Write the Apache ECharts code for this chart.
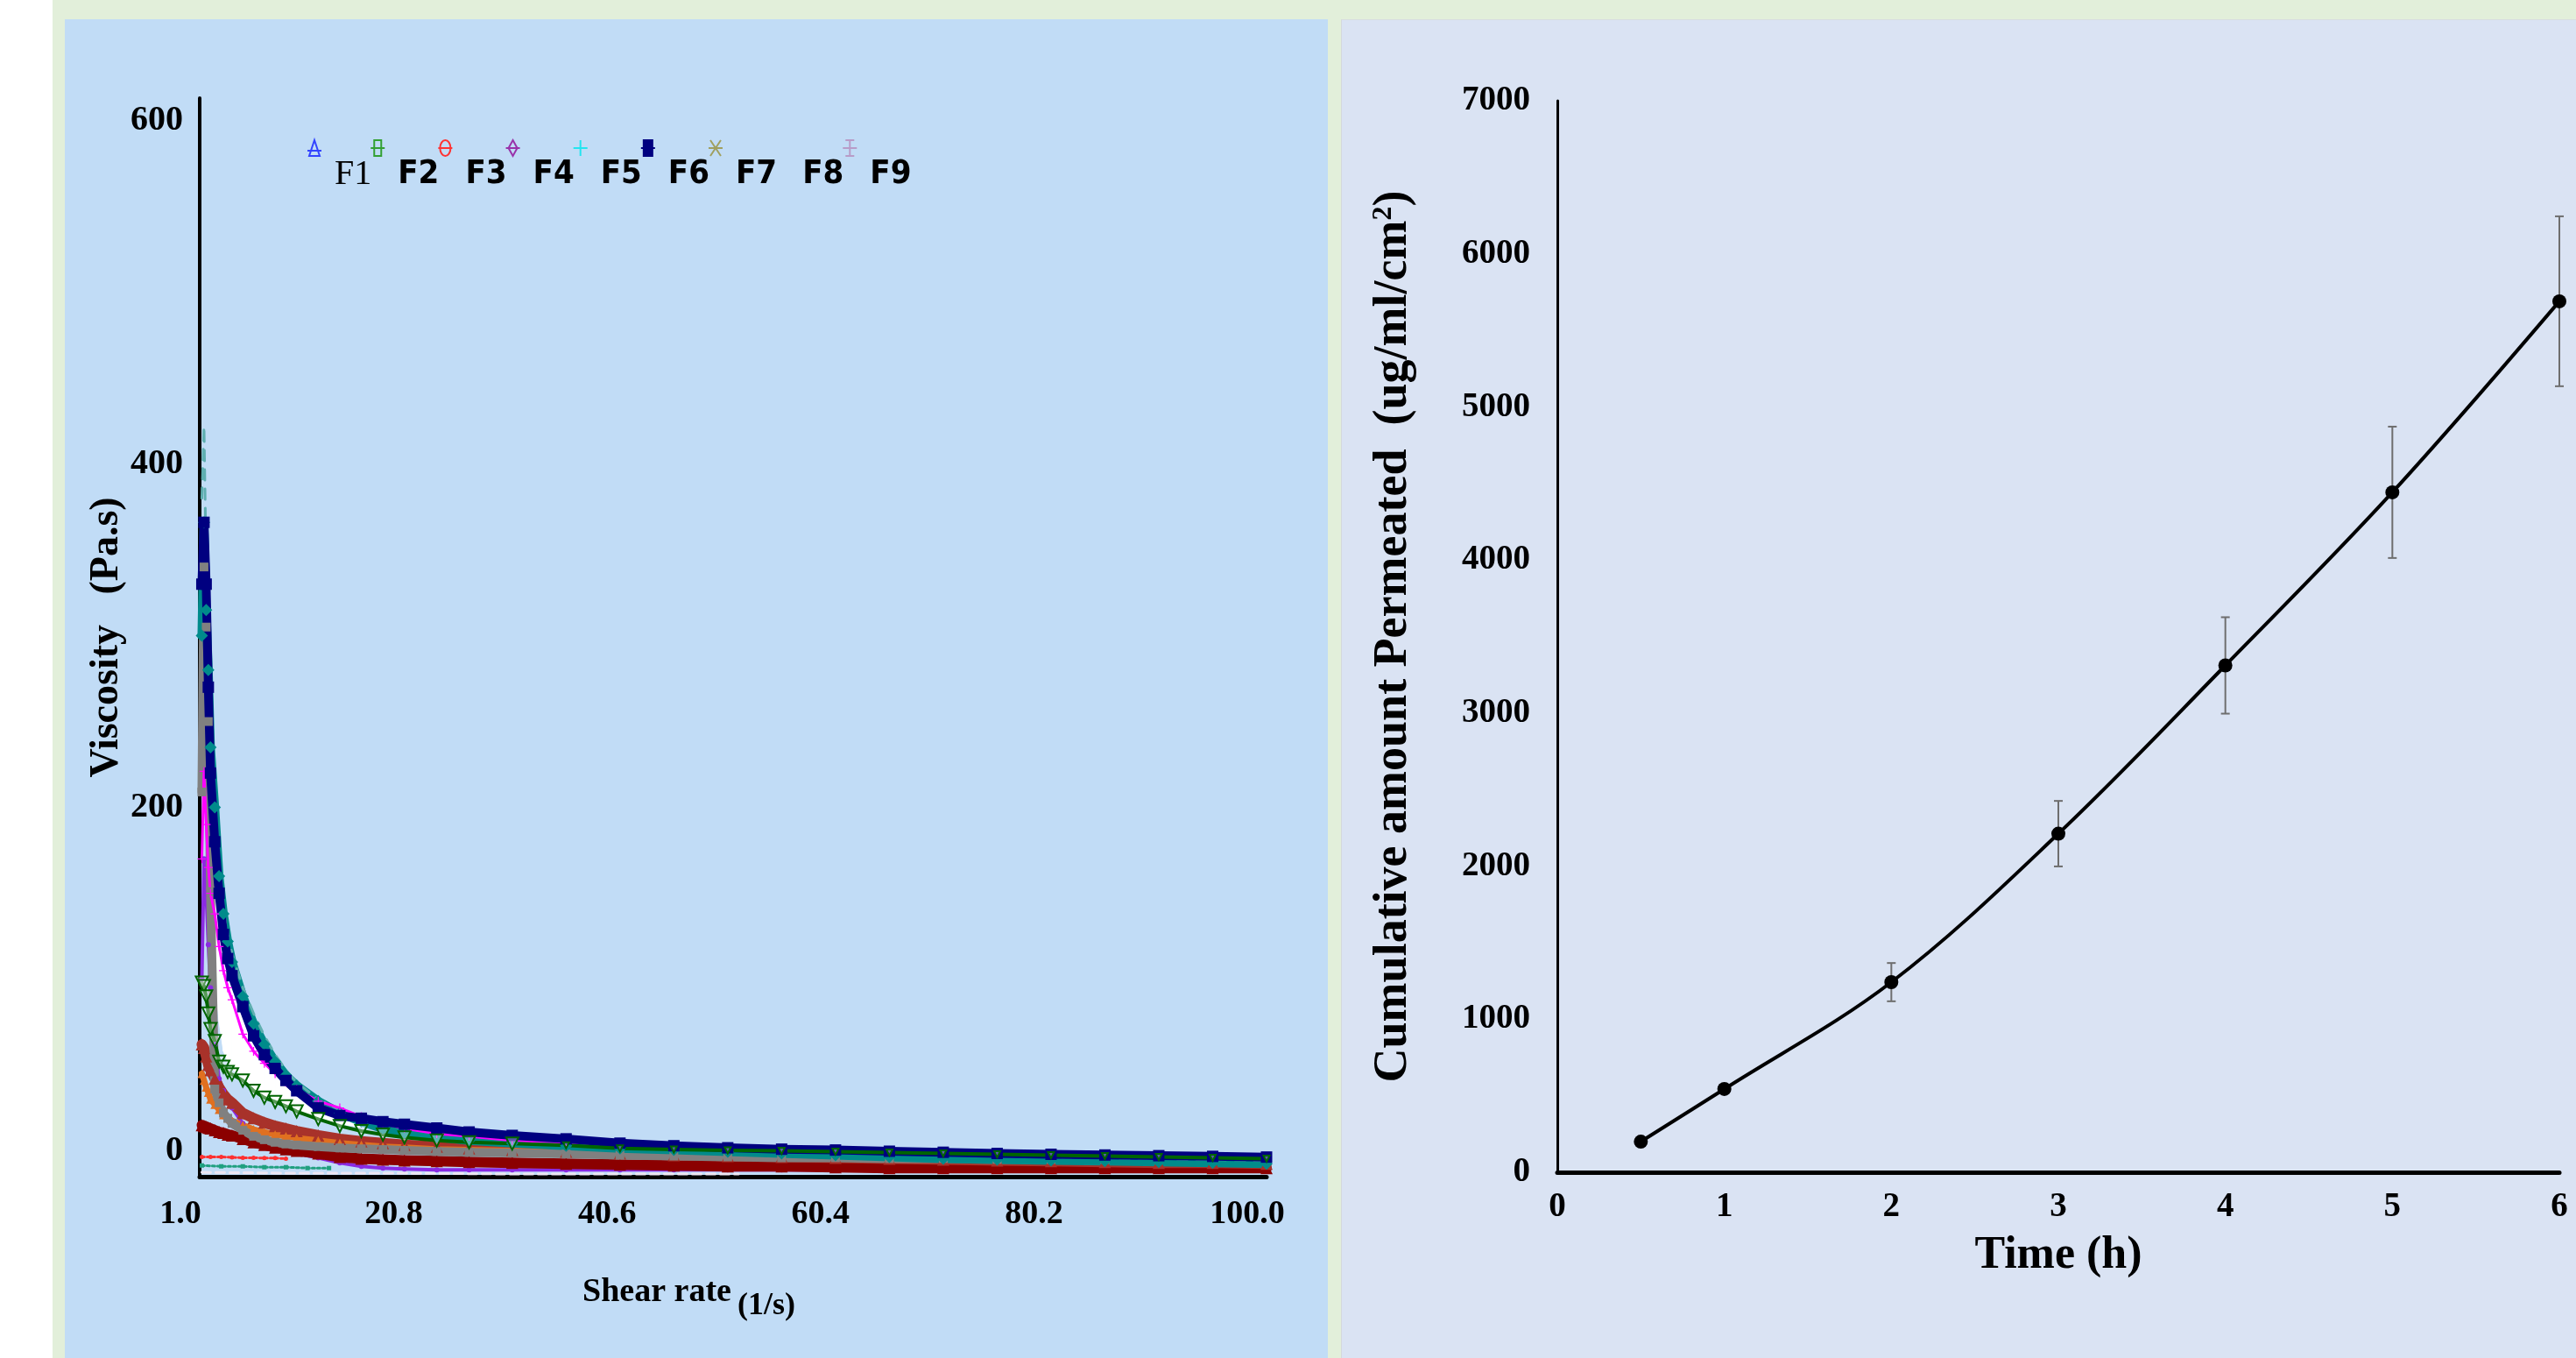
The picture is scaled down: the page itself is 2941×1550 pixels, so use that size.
<!DOCTYPE html>
<html>
<head>
<meta charset="utf-8">
<script src="https://cdn.jsdelivr.net/npm/echarts@6/dist/echarts.min.js"></script>
<style>
html,body{margin:0;padding:0;width:2941px;height:1550px;overflow:hidden;background:#E2EFDA;}
#whiteStrip{position:absolute;left:0;top:0;width:60px;height:1550px;background:#ffffff;}
#panelL{position:absolute;left:74px;top:22px;width:1442px;height:1528px;background:#C1DCF6;}
#panelR{position:absolute;left:1531px;top:22px;width:1410px;height:1528px;background:#DAE3F3;border-left:1px solid #d4d8dc;border-top:1px solid #d8dde0;}
#chart{position:absolute;left:0;top:0;width:2941px;height:1550px;}
</style>
</head>
<body>
<div id="whiteStrip"></div>
<div id="panelL"></div>
<div id="panelR"></div>
<div id="chart"></div>
<script>
// ---------- Left chart: viscosity vs shear rate ----------
const shearRate = [1.2,1.4,1.6,1.8,2.0,2.4,2.8,3.2,3.6,4,5,6,7,8,9,10,12,14,16,18,20,23,26,30,35,40,45,50,55,60,65,70,75,80,85,90,95,100];

const viscF1 = [100,170,150,120,95,62,42,35,29,25,16,8,4,1.5,0,-1.5,-4,-7,-9,-10,-10.5,-11,-11,-11,-11,-11,-11,-11,-11,-11,-11,-11,-11,-11,-11,-11,-11,-11];
const viscF2 = [98,96,90,80,71,64,52,49,46,44.5,41,35,31,28.5,26,23,18.5,14.5,11.5,9.5,7.8,6,5,4.2,3.3,1.5,0.8,0.3,0,-0.5,-1,-1.5,-2,-2.5,-3,-3.5,-4,-4.5];
const viscF3 = [62,60,55,50,47,42,37,33,30,28,22,19,16.5,14.5,13,11.5,9,7,5.5,4.5,3.5,2.5,1.5,0.5,-0.5,-1.5,-2.5,-3,-3.5,-4,-4.5,-5,-5.5,-6,-6.5,-7,-7,-7.5];
const viscF4 = [170,221,190,165,150,138,119,105,95,88,68,58,51,45,40,36,29,25,20,16,13,10,8.5,6,5,3.5,2,1,0.5,0,-0.5,-1,-1.5,-2,-2.5,-3,-3,-3.5];
const viscF5 = [300,366,315,280,235,200,160,138,122,110,90,74,62,52,44,38,29,22,17,13,10.5,8,6,4.5,3,1.5,0.5,-0.5,-1.5,-2.5,-3.5,-4.5,-5,-5.5,-6,-6.5,-7,-7.5];
const viscF5Upper = [380,422,340,300,268,200,165,140,126,115,95,80,67,56,47,40,30,24,20,17,15,12,10,8,6,4,3,2,1,0,-1,-2,-3,-3.5,-4,-4.5,-5,-5.5];
const viscF6 = [330,366,330,270,220,180,150,126,112,102,84,67,56,48,41,35,25,20.5,19,17,15.5,13.3,11,9,7,4.5,3,1.8,1,0.5,-0.2,-0.8,-1.5,-2,-2.4,-2.8,-3.2,-3.6];
const viscF7 = [209,340,305,250,151,36,28,22,19,16,12,8.5,6.5,5,4,3.4,2.5,1.7,1.2,0.8,0.3,-0.3,-0.8,-1.2,-1.8,-2.5,-3,-3.5,-4,-4,-4.5,-4.5,-5,-5,-5,-5,-5,-5];
const viscF8 = [45,41,37,34,30,27,24,21,19,17.5,15,12.5,11,9.5,8.5,7.5,6,4.5,3.5,2.5,2,1,0.5,0,-0.5,-1,-1.5,-2,-2.5,-3,-3.5,-4,-4,-4.5,-4.5,-5,-5,-5];
const viscF9 = [15,14.5,14,13.5,13,12,11,10.5,9.5,9,7,5,3.5,2,1,0,-1.5,-3.5,-4.5,-5,-5.5,-6,-6.5,-7,-7.5,-8,-8.5,-9,-9,-9.5,-10,-10,-10,-10,-10,-10,-10,-10];

// white band (between upper and lower traces at low shear)
const bandShear  = [2.0,2.4,2.8,3.2,3.6,4,5,6,7,8,9,10,12,14,16];
const bandTop    = [200,160,140,125,113,103,82,62,52,44,38,33,25,21,16.5];
const bandBottom = [150,100,75,58,52,48,42,36,32,29,26.5,24,19.5,15.5,14];

// faint traces lying along the baseline
const low1Shear = [1.2,2,3,4,5,6,7,8,9];
const low1 = [-3.5,-3.5,-3.5,-3.8,-4,-4,-4.2,-4.2,-4.5];
const low2Shear = [1.2,3,5,7,9,11,13];
const low2 = [-8.5,-9,-9,-9.5,-9.5,-10,-10];
const low3Shear = [1.2,10,20,30,40,51];
const low3 = [-12.5,-13,-13,-13.5,-13.5,-13.5];

const xTickValues = [1, 20.8, 40.6, 60.4, 80.2, 100];
const xTickLabels = ['1.0','20.8','40.6','60.4','80.2','100.0'];
const yTickValues = [0, 200, 400, 600];
const legendNames = ['F1','F2','F3','F4','F5','F6','F7','F8','F9'];

// ---------- Right chart: cumulative amount permeated ----------
const timeH = [0.5, 1, 2, 3, 4, 5, 6];
const cumPermeated = [200, 544, 1242, 2212, 3311, 4442, 5690];
const cumSD = [0, 20, 125, 214, 315, 429, 555];

// ---------- styles ----------
const SERIF = "'Liberation Serif','Times New Roman',serif";
const NARROW = "'Liberation Sans Narrow','Arial Narrow','DejaVu Sans Condensed',sans-serif";
const PLUS = 'path://M7,0H9V7H16V9H9V16H7V9H0V7H7Z';

const legendStyle = [
  {icon:'path://M8,0L14,18H2Z M0,12H16', c:'#3344FF', fill:'rgba(0,0,0,0)'},
  {icon:'path://M4,0H12V18H4Z M0,9H16', c:'#33A033', fill:'rgba(0,0,0,0)'},
  {icon:'path://M8,0A6,9 0 1,1 8,18A6,9 0 1,1 8,0Z M0,9H16', c:'#FF3333', fill:'rgba(0,0,0,0)'},
  {icon:'path://M8,0L13,9L8,18L3,9Z M0,9H16', c:'#9933AA', fill:'rgba(0,0,0,0)'},
  {icon:'path://M8,0V18 M0,9H16', c:'#22E5F0', fill:'rgba(0,0,0,0)'},
  {icon:'path://M3,0H13V18H3Z M0,9H16', c:'#000080', fill:'#000080'},
  {icon:'path://M2,0L14,18 M14,0L2,18 M0,9H16', c:'#A0A060', fill:'rgba(0,0,0,0)'},
  {icon:'none', c:'#FF99CC', fill:'#FF99CC'},
  {icon:'path://M3,0H13 M8,0V18 M3,18H13 M0,9H16', c:'#B89CC8', fill:'rgba(0,0,0,0)'}
];

function curve(name, xs, ys, color, width, symbol, size, extra) {
  const s = {
    type: 'line', name: name, xAxisIndex: 0, yAxisIndex: 0,
    data: xs.map((x, i) => [x, ys[i]]),
    symbol: symbol, symbolSize: size, showSymbol: symbol !== 'none',
    lineStyle: {color: color, width: width, join: 'round', cap: 'round'},
    itemStyle: {color: color},
    emphasis: {disabled: true}, silent: true, animation: false
  };
  if (extra) {
    if (extra.lineType) s.lineStyle.type = extra.lineType;
    if (extra.rotate != null) s.symbolRotate = extra.rotate;
    if (extra.itemStyle) s.itemStyle = extra.itemStyle;
  }
  return s;
}

const greenCurve = curve('F2', shearRate, viscF2, '#006400', 4, 'triangle', 14,
  {rotate: 180, itemStyle: {color: 'rgba(255,255,255,0.35)', borderColor: '#006400', borderWidth: 2}});
greenCurve.symbolSize = (v) => (v[0] <= 30 ? 14 : 7);

const series = [
  {
    type: 'custom', name: 'band', xAxisIndex: 0, yAxisIndex: 0, silent: true, animation: false,
    data: bandShear.map((s, i) => [s, bandTop[i], bandBottom[i]]),
    renderItem: function (params, api) {
      const i = params.dataIndex;
      if (i >= bandShear.length - 1) return null;
      const p1 = api.coord([bandShear[i], bandTop[i]]);
      const p2 = api.coord([bandShear[i+1], bandTop[i+1]]);
      const p3 = api.coord([bandShear[i+1], bandBottom[i+1]]);
      const p4 = api.coord([bandShear[i], bandBottom[i]]);
      return {type: 'polygon', shape: {points: [p1, p2, p3, p4]}, style: {fill: '#ffffff', stroke: '#ffffff', lineWidth: 1}};
    }
  },
  curve('low3', low3Shear, low3, '#EDE6F2', 3, 'none', 0, {lineType: [10, 6]}),
  curve('F1', shearRate, viscF1, '#8A2BE2', 4, 'circle', 6),
  curve('F9', shearRate, viscF9, '#8B0000', 12, 'triangle', 14),
  curve('F3', shearRate, viscF3, '#A8322A', 12, 'triangle', 14),
  curve('F8', shearRate, viscF8, '#E07020', 7, 'triangle', 10),
  curve('F7', shearRate, viscF7, '#808080', 10, 'rect', 10),
  curve('F5', shearRate, viscF5, '#008B8B', 10, 'diamond', 14),
  curve('F5 upper', shearRate, viscF5Upper, '#5FAFB0', 3, 'none', 0, {lineType: [12, 10]}),
  curve('F4', shearRate, viscF4, '#FF00FF', 3, PLUS, 10),
  curve('F6', shearRate, viscF6, '#000080', 10, 'rect', 13),
  greenCurve,
  curve('low1', low1Shear, low1, '#FF3030', 3, 'circle', 5, {lineType: 'dotted'}),
  curve('low2', low2Shear, low2, '#20A080', 3, 'rect', 5, {lineType: 'dotted'}),
  // right chart
  {
    type: 'custom', name: 'SD', xAxisIndex: 1, yAxisIndex: 1, silent: true, animation: false, z: 2,
    data: timeH.map((t, i) => [t, cumPermeated[i], cumSD[i]]),
    renderItem: function (params, api) {
      const t = api.value(0), m = api.value(1), e = api.value(2);
      if (!e) return null;
      const top = api.coord([t, m + e]);
      const bot = api.coord([t, m - e]);
      const hw = 5;
      const st = {stroke: '#6E6E6E', lineWidth: 2};
      return {type: 'group', children: [
        {type: 'line', shape: {x1: top[0], y1: top[1], x2: bot[0], y2: bot[1]}, style: st},
        {type: 'line', shape: {x1: top[0]-hw, y1: top[1], x2: top[0]+hw, y2: top[1]}, style: st},
        {type: 'line', shape: {x1: bot[0]-hw, y1: bot[1], x2: bot[0]+hw, y2: bot[1]}, style: st}
      ]};
    }
  },
  {
    type: 'line', name: 'Cumulative', xAxisIndex: 1, yAxisIndex: 1, z: 3,
    data: timeH.map((t, i) => [t, cumPermeated[i]]),
    smooth: 0.35, symbol: 'circle', symbolSize: 16,
    lineStyle: {color: '#000', width: 4}, itemStyle: {color: '#000'},
    emphasis: {disabled: true}, silent: true, animation: false
  }
];

const boldSerif = (size) => ({fontFamily: SERIF, fontWeight: 'bold', fontSize: size, color: '#000'});

const option = {
  backgroundColor: 'transparent',
  animation: false,
  textStyle: {fontFamily: SERIF},
  grid: [
    {left: 228, top: 112, width: 1218, height: 1231, containLabel: false},
    {left: 1778, top: 115, width: 1144, height: 1223, containLabel: false}
  ],
  legend: {
    left: 350, top: 109, padding: 0, orient: 'horizontal',
    itemWidth: 16, itemHeight: 20, itemGap: -2, selectedMode: false,
    formatter: (name) => '\n' + (name === 'F1' ? '{t1|F1}' : '{t|' + name + '}'),
    textStyle: {
      fontFamily: NARROW, fontWeight: 'bold', fontSize: 38, color: '#000', lineHeight: 60,
      rich: {
        t: {fontFamily: NARROW, fontWeight: 'bold', fontSize: 38, color: '#000', lineHeight: 60, padding: [0, 0, 0, 10]},
        t1: {fontFamily: SERIF, fontWeight: 'normal', fontSize: 40, color: '#000', lineHeight: 60, padding: [0, 0, 0, 10]}
      }
    },
    data: legendNames.map((n, i) => {
      const L = legendStyle[i];
      return {
        name: n, icon: L.icon,
        itemStyle: {color: L.fill, borderColor: L.c, borderWidth: 2}
      };
    })
  },
  xAxis: [
    {
      type: 'value', gridIndex: 0, position: 'bottom', min: 1, max: 100,
      axisLine: {show: true, onZero: false, lineStyle: {color: '#000', width: 5}},
      axisTick: {show: false}, splitLine: {show: false},
      axisLabel: Object.assign(boldSerif(38), {
        customValues: xTickValues, margin: 24, padding: [0, 44, 0, 0],
        formatter: (v) => { const k = xTickValues.indexOf(v); return k >= 0 ? xTickLabels[k] : v.toFixed(1); }
      }),
      name: 'Shear rate', nameLocation: 'middle', nameGap: 112,
      nameTextStyle: Object.assign(boldSerif(38), {lineHeight: 40, padding: [0, 174, 0, 0]})
    },
    {
      type: 'value', gridIndex: 1, position: 'bottom', min: 0, max: 6, interval: 1,
      axisLine: {show: true, onZero: false, lineStyle: {color: '#000', width: 5}},
      axisTick: {show: false}, splitLine: {show: false},
      axisLabel: Object.assign(boldSerif(39), {margin: 20}),
      name: 'Time (h)', nameLocation: 'middle', nameGap: 70,
      nameTextStyle: boldSerif(52)
    },
    {
      // carries the unit part of the shear-rate title, which sits a little lower
      type: 'value', gridIndex: 0, position: 'bottom', offset: 0, min: 1, max: 100,
      axisLine: {show: false, onZero: false}, axisTick: {show: false},
      axisLabel: {show: false}, splitLine: {show: false},
      name: '(1/s)', nameLocation: 'middle', nameGap: 128,
      nameTextStyle: Object.assign(boldSerif(36), {lineHeight: 40, padding: [0, 0, 0, 76]})
    }
  ],
  yAxis: [
    {
      type: 'value', gridIndex: 0, min: -15, max: 613,
      axisLine: {show: true, onZero: false, lineStyle: {color: '#000', width: 4}},
      axisTick: {show: false}, splitLine: {show: false},
      axisLabel: Object.assign(boldSerif(40), {customValues: yTickValues, margin: 19}),
      name: 'Viscosity   (Pa.s)', nameLocation: 'middle', nameGap: 82,
      nameTextStyle: boldSerif(46)
    },
    {
      type: 'value', gridIndex: 1, min: 0, max: 7000, interval: 1000,
      axisLine: {show: true, onZero: false, lineStyle: {color: '#000', width: 3}},
      axisTick: {show: false}, splitLine: {show: false},
      axisLabel: Object.assign(boldSerif(39), {margin: 31, formatter: (v) => String(v)}),
      name: 'Cumulative amount Permeated  (ug/ml/cm{s|2})', nameLocation: 'middle', nameGap: 160,
      nameTextStyle: Object.assign(boldSerif(54), {rich: {s: Object.assign(boldSerif(32), {verticalAlign: 'top'})}})
    }
  ],
  series: series
};

const chart = echarts.init(document.getElementById('chart'), null, {renderer: 'canvas'});
chart.setOption(option);
</script>
</body>
</html>
